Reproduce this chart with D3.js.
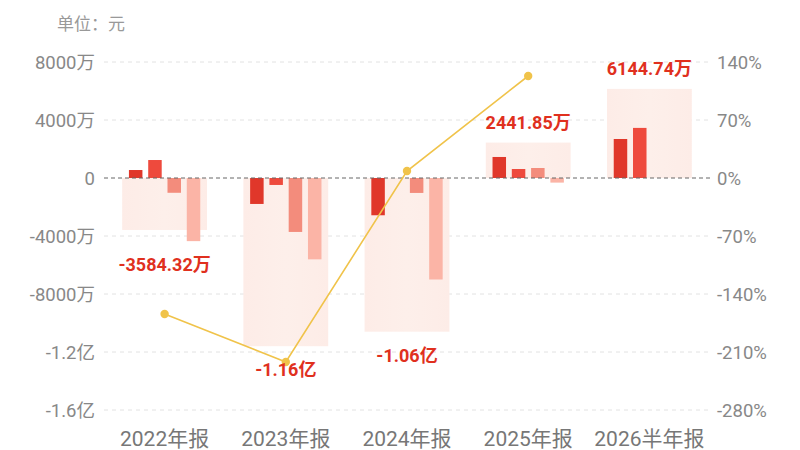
<!DOCTYPE html>
<html><head><meta charset="utf-8">
<script src="https://cdn.jsdelivr.net/npm/d3@7"></script>
<style>body{margin:0;background:#fff}svg{display:block}</style>
</head><body>
<svg id="c" width="800" height="450"></svg>
<script>
const categories = ["2022年报","2023年报","2024年报","2025年报","2026半年报"];
const quarters = ["Q1","Q2","Q3","Q4"];
// quarterly values in 万元 (null = no bar)
const q1 = [550, -1790, -2570, 1450, 2690];
const q2 = [1240, -480, 0, 620, 3455];
const q3 = [-1020, -3720, -1030, 690, null];
const q4 = [-4354, -5610, -7000, -318, null];
const totals = [-3584.32, -11600, -10600, 2441.85, 6144.74];
const totalLabels = ["-3584.32万","-1.16亿","-1.06亿","2441.85万","6144.74万"];
const growth = [-164.1, -222, 8.4, 123.1, null];
const leftTicks = [8000, 4000, 0, -4000, -8000, -12000, -16000];
const leftTickLabels = ["8000万","4000万","0","-4000万","-8000万","-1.2亿","-1.6亿"];
const rightTicks = [140, 70, 0, -70, -140, -210, -280];
const rightTickLabels = ["140%","70%","0%","-70%","-140%","-210%","-280%"];

const svg = d3.select("#c");
const X0 = 104, X1 = 710, YT = 62, YB = 410;
const font = "Roboto, 'Noto Sans CJK SC', sans-serif";
const x = d3.scaleBand().domain(categories).range([X0, X1]).paddingInner(0.3).paddingOuter(0.15);
const xq = d3.scaleBand().domain(quarters).range([0, x.bandwidth()]).paddingInner(0.3).paddingOuter(0.35);
const yL = d3.scaleLinear().domain([-16000, 8000]).range([YB, YT]);
const yR = d3.scaleLinear().domain([-280, 140]).range([YB, YT]);

svg.append("text").attr("x", 57).attr("y", 30).attr("fill", "#999")
  .attr("font-size", 17).attr("font-family", font).text("单位：元");

// gridlines
svg.append("g").selectAll("line").data(leftTicks.filter(d => d !== 0)).join("line")
  .attr("x1", X0).attr("x2", X1 + 2).attr("y1", d => yL(d)).attr("y2", d => yL(d))
  .attr("stroke", "#e2e2e2").attr("stroke-width", 1).attr("stroke-dasharray", "4,4");

// left axis labels
svg.append("g").selectAll("text").data(leftTicks).join("text")
  .attr("x", 95).attr("y", d => yL(d)).attr("dy", "0.36em").attr("text-anchor", "end")
  .attr("fill", "#888").attr("font-size", 18.5).attr("font-family", font)
  .text((d, i) => leftTickLabels[i]);
// right axis labels
svg.append("g").selectAll("text").data(rightTicks).join("text")
  .attr("x", 717).attr("y", d => yR(d)).attr("dy", "0.36em").attr("text-anchor", "start")
  .attr("fill", "#888").attr("font-size", 18.5).attr("font-family", font)
  .text((d, i) => rightTickLabels[i]);

// background total rects
const defs = svg.append("defs");
const lg = defs.append("linearGradient").attr("id", "bgfade").attr("x1", 0).attr("x2", 1);
lg.append("stop").attr("offset", "0").attr("stop-color", "#fdece7");
lg.append("stop").attr("offset", "0.5").attr("stop-color", "#fdefea");
lg.append("stop").attr("offset", "1").attr("stop-color", "#fdece7");
svg.append("g").selectAll("rect").data(categories).join("rect")
  .attr("x", d => x(d)).attr("width", x.bandwidth())
  .attr("y", (d, i) => Math.min(yL(totals[i]), yL(0)))
  .attr("height", (d, i) => Math.abs(yL(totals[i]) - yL(0)))
  .attr("fill", "url(#bgfade)");

// quarter bars
const series = [q1, q2, q3, q4];
const colors = ["#e0372a", "#ee4a3d", "#f38c7c", "#fbb4a6"];
series.forEach((vals, qi) => {
  svg.append("g").selectAll("rect").data(categories).join("rect")
    .filter((d, i) => vals[i] !== null && vals[i] !== 0)
    .attr("x", d => x(d) + xq(quarters[qi])).attr("width", xq.bandwidth())
    .attr("y", function(d) { const v = vals[categories.indexOf(d)]; return Math.min(yL(v), yL(0)); })
    .attr("height", function(d) { const v = vals[categories.indexOf(d)]; return Math.abs(yL(v) - yL(0)); })
    .attr("fill", colors[qi]);
});

// zero line
svg.append("line").attr("x1", X0).attr("x2", X1 + 2).attr("y1", yL(0)).attr("y2", yL(0))
  .attr("stroke", "#666").attr("stroke-width", 1).attr("stroke-dasharray", "4,3");

// growth line
const pts = categories.map((c, i) => ({c, v: growth[i]})).filter(p => p.v !== null);
svg.append("path").datum(pts)
  .attr("d", d3.line().x(p => x(p.c) + x.bandwidth() / 2).y(p => yR(p.v)))
  .attr("fill", "none").attr("stroke", "#f0c34a").attr("stroke-width", 1.6);
svg.append("g").selectAll("circle").data(pts).join("circle")
  .attr("cx", p => x(p.c) + x.bandwidth() / 2).attr("cy", p => yR(p.v)).attr("r", 4.2)
  .attr("fill", "#f0c34a");

// total labels
svg.append("g").selectAll("text").data(categories).join("text")
  .attr("x", d => x(d) + x.bandwidth() / 2)
  .attr("y", (d, i) => {
    const vals = series.map(s => s[i]).filter(v => v !== null).concat([totals[i]]);
    if (totals[i] >= 0) return yL(d3.max(vals)) - 14;
    return yL(d3.min(vals)) + 30;
  })
  .attr("text-anchor", "middle").attr("fill", "#e0301e").attr("font-weight", "bold")
  .attr("font-size", 18).attr("font-family", font)
  .text((d, i) => totalLabels[i]);

// x axis labels
svg.append("g").selectAll("text").data(categories).join("text")
  .attr("x", d => x(d) + x.bandwidth() / 2).attr("y", 446)
  .attr("text-anchor", "middle").attr("fill", "#777")
  .attr("font-size", 21).attr("font-family", font)
  .text(d => d);
</script>
</body></html>
